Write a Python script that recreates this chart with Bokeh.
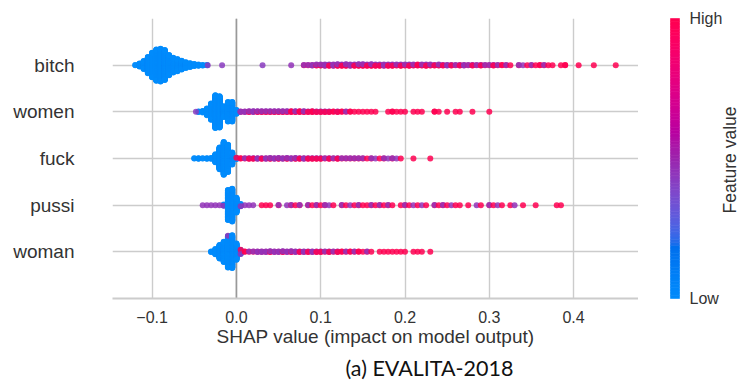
import math
import numpy as np
from bokeh.plotting import figure
from bokeh.layouts import row
from bokeh.models import Range1d, FixedTicker, LinearColorMapper, ColumnDataSource, Title, Label
from bokeh.embed import file_html
from bokeh.resources import INLINE

# ---------------- data ----------------
features = ["woman", "pussi", "fuck", "women", "bitch"]          # bottom -> top
x_ticks = [-0.1, 0.0, 0.1, 0.2, 0.3, 0.4]
x_tick_labels = ["\u22120.1", "0.0", "0.1", "0.2", "0.3", "0.4"]
bin_width = 0.005                # histogram bin width of the counts below
LOW_V, MID_V, HIGH_V = 0.0, 0.45, 1.0   # feature value of the three colour groups

# bitch
bitch_low_start = -0.120
bitch_low_counts = [2, 12, 30, 60, 90, 115, 120, 110, 75, 55, 45, 33, 22, 15, 8, 5, 3, 2]
bitch_pos_start = 0.080
bitch_pos_mid = [1, 1, 2, 2, 2, 3, 2, 3, 3, 2, 3, 3, 2, 3, 3, 2, 3, 2, 2, 3,
                 2, 2, 2, 2, 2, 2, 2, 1, 2, 2, 2, 1, 2, 1, 2, 1, 1, 1, 2, 1,
                 1, 1, 1, 1, 1, 1, 1, 0, 1, 0, 0, 1, 1, 0, 1, 0, 0, 1, 0, 0,
                 0, 0, 0, 0]
bitch_pos_high = [1, 1, 1, 2, 2, 2, 3, 2, 3, 3, 3, 2, 3, 3, 3, 3, 3, 3, 3, 2,
                  3, 3, 2, 3, 2, 3, 2, 3, 2, 3, 2, 2, 2, 2, 1, 2, 1, 2, 1, 1,
                  2, 1, 2, 1, 1, 2, 1, 2, 1, 1, 0, 1, 0, 1, 1, 1, 2, 1, 1, 1,
                  0, 1, 2, 0]
bitch_extra_x = [-0.034, -0.017, 0.031, 0.065, 0.406, 0.424, 0.450]
bitch_extra_v = [0.42, 0.42, 0.42, 0.45, 1.0, 1.0, 1.0]

# women
women_low_start = -0.045
women_low_counts = [3, 6, 25, 60, 120, 115, 40, 72, 72, 15]
women_pos_start = 0.005
women_pos_mid = [2, 2, 2, 3, 2, 2, 2, 2, 2, 2, 2, 2, 1, 2, 1, 2, 1, 1, 1, 1,
                 1, 1, 0, 1, 0, 1, 0, 0, 0, 0, 0, 0, 0, 0, 0, 0, 0, 0, 0, 0,
                 0, 0, 0, 0, 0, 0, 0, 0, 0, 0, 0, 0, 0, 0, 0, 0, 0, 0, 0, 0]
women_pos_high = [1, 1, 2, 1, 2, 2, 2, 2, 2, 2, 2, 2, 3, 2, 3, 2, 2, 3, 2, 2,
                  2, 2, 2, 2, 2, 1, 2, 1, 1, 1, 1, 1, 1, 0, 0, 1, 2, 1, 1, 1,
                  0, 1, 1, 1, 0, 0, 2, 1, 0, 1, 0, 1, 1, 0, 0, 1, 0, 0, 0, 1]
women_extra_x = [-0.048]
women_extra_v = [0.42]

# fuck
fuck_low_start = -0.050
fuck_low_counts = [2, 3, 2, 3, 4, 30, 80, 120, 100, 45, 5]
fuck_pos_start = 0.000
fuck_pos_mid = [0, 0, 1, 1, 1, 2, 1, 2, 2, 2, 2, 2, 2, 2, 2, 1, 2, 1, 1, 1,
                1, 1, 1, 1, 1, 1, 1, 1, 1, 1, 1, 0, 1, 1, 0, 1, 1, 1, 1, 0,
                0, 0, 0, 0, 0, 0, 0]
fuck_pos_high = [1, 2, 1, 2, 2, 1, 2, 1, 2, 1, 2, 1, 2, 1, 2, 2, 1, 2, 2, 2,
                 2, 1, 2, 1, 2, 1, 1, 1, 1, 1, 1, 1, 1, 0, 1, 1, 0, 1, 0, 1,
                 0, 0, 1, 0, 0, 0, 1]
fuck_extra_x = []
fuck_extra_v = []

# pussi
pussi_low_start = -0.015
pussi_low_counts = [4, 110, 120, 55, 8]
pussi_pos_start = -0.040
pussi_pos_mid = [1, 1, 1, 1, 1, 1, 0, 0, 0, 1, 1, 1, 1, 0, 0, 0, 0, 0, 1, 0,
                 1, 1, 0, 1, 0, 1, 0, 1, 0, 1, 1, 0, 0, 1, 0, 1, 0, 1, 0, 0,
                 1, 0, 1, 0, 1, 0, 0, 0, 1, 0, 1, 0, 1, 0, 0, 1, 0, 1, 0, 1,
                 0, 0, 0, 0, 0, 1, 0, 0, 1, 0, 1, 0, 0, 0, 1, 0, 0, 0, 0, 0,
                 0, 0, 0, 0, 0, 0, 0]
pussi_pos_high = [0, 0, 0, 0, 0, 0, 0, 0, 0, 0, 0, 0, 0, 0, 1, 1, 1, 0, 1, 0,
                  0, 1, 1, 1, 0, 1, 1, 1, 1, 1, 0, 1, 0, 1, 1, 0, 1, 1, 1, 1,
                  1, 1, 1, 1, 1, 1, 0, 1, 1, 1, 0, 1, 0, 1, 0, 1, 1, 1, 1, 0,
                  1, 1, 0, 1, 0, 0, 1, 0, 1, 1, 0, 1, 0, 1, 0, 0, 1, 0, 0, 1,
                  0, 0, 0, 0, 1, 1, 0]
pussi_extra_x = []
pussi_extra_v = []

# woman
woman_low_start = -0.030
woman_low_counts = [3, 20, 50, 75, 115, 120, 60, 15]
woman_pos_start = -0.010
woman_pos_mid = [1, 0, 0, 1, 0, 1, 1, 2, 2, 2, 2, 2, 2, 2, 2, 2, 2, 1, 2, 1,
                 2, 1, 1, 1, 1, 1, 1, 0, 1, 0, 1, 0, 0, 1, 0, 0, 0, 0, 0, 0,
                 0, 0, 0, 0, 0, 0, 0, 0, 0]
woman_pos_high = [0, 0, 0, 1, 2, 1, 1, 1, 1, 1, 2, 1, 1, 2, 1, 2, 1, 2, 1, 2,
                  1, 2, 2, 1, 2, 1, 2, 2, 1, 2, 1, 2, 1, 1, 1, 0, 1, 1, 1, 1,
                  1, 1, 1, 0, 1, 1, 1, 0, 1]
woman_extra_x = []
woman_extra_v = []

rows_data = {
    "woman": (woman_low_start, woman_low_counts, woman_pos_start, woman_pos_mid, woman_pos_high, woman_extra_x, woman_extra_v),
    "pussi": (pussi_low_start, pussi_low_counts, pussi_pos_start, pussi_pos_mid, pussi_pos_high, pussi_extra_x, pussi_extra_v),
    "fuck": (fuck_low_start, fuck_low_counts, fuck_pos_start, fuck_pos_mid, fuck_pos_high, fuck_extra_x, fuck_extra_v),
    "women": (women_low_start, women_low_counts, women_pos_start, women_pos_mid, women_pos_high, women_extra_x, women_extra_v),
    "bitch": (bitch_low_start, bitch_low_counts, bitch_pos_start, bitch_pos_mid, bitch_pos_high, bitch_extra_x, bitch_extra_v),
}

# ---------------- SHAP red_blue colour map (LCh interpolation) ----------------
def lch2hex(l, c, h):
    a, b = c * math.cos(h), c * math.sin(h)
    fy = (l + 16) / 116.0
    fx, fz = fy + a / 500.0, fy - b / 200.0
    def finv(t):
        return t ** 3 if t > 0.206893 else (t - 16 / 116.0) / 7.787
    X, Y, Z = 0.95047 * finv(fx), finv(fy), 1.08883 * finv(fz)
    r = 3.24048134 * X - 1.53715152 * Y - 0.49853633 * Z
    g = -0.96925495 * X + 1.87599 * Y + 0.04155593 * Z
    bl = 0.05564664 * X - 0.20404134 * Y + 1.05731107 * Z
    def gam(v):
        v = 1.055 * v ** (1 / 2.4) - 0.055 if v > 0.0031308 else 12.92 * v
        return int(round(min(1.0, max(0.0, v)) * 255))
    return "#%02x%02x%02x" % (gam(r), gam(g), gam(bl))

nsteps = 100
l_vals = list(np.linspace(54., 40., nsteps // 2)) + list(np.linspace(40., 54., nsteps // 2))
c_vals = np.linspace(70., 90., nsteps)
h_vals = np.linspace(4.6588, 0.35470565 + 2 * np.pi, nsteps)
palette = [lch2hex(l, c, h) for l, c, h in zip(l_vals, c_vals, h_vals)]
mapper = LinearColorMapper(palette=palette, low=0.0, high=1.0)

# ---------------- beeswarm layout (SHAP style layering) ----------------
def build_row(low_start, low_counts, pos_start, mid_counts, high_counts, extra_x, extra_v):
    groups, order = {}, []
    def add(x, v):
        k = round(x, 4)
        if k not in groups:
            groups[k] = []
            order.append(k)
        groups[k].append(v)
    for i, n in enumerate(low_counts):
        for _ in range(n):
            add(low_start + i * bin_width, LOW_V)
    for i, (m, h) in enumerate(zip(mid_counts, high_counts)):
        x = pos_start + i * bin_width
        for j in range(max(m, h)):
            if j < h:
                add(x, HIGH_V)
            if j < m:
                add(x, MID_V)
    for x, v in zip(extra_x, extra_v):
        add(x, v)
    xs, offs, vs = [], [], []
    for k in order:
        for layer, v in enumerate(groups[k]):
            xs.append(k)
            offs.append(math.ceil(layer / 2) * ((layer % 2) * 2 - 1))
            vs.append(v)
    offs = np.array(offs, dtype=float)
    offs *= 0.9 * (0.4 / np.max(offs + 1))
    return xs, offs, vs

all_x, all_y, all_v = [], [], []
for pos, name in enumerate(features):
    xs, offs, vs = build_row(*rows_data[name])
    all_x += xs
    all_y += list(pos + offs)
    all_v += vs
src = ColumnDataSource(dict(x=all_x, y=all_y, v=all_v))

# ---------------- main figure ----------------
FONT = "Liberation Sans"
rows = list(range(len(features)))
p = figure(width=638, height=385, x_range=Range1d(-0.147, 0.477), y_range=Range1d(-1, 5),
           output_backend="svg", toolbar_location=None,
           min_border_left=112, min_border_right=0, min_border_top=18, min_border_bottom=87)
p.frame_align = False
p.outline_line_color = None
p.background_fill_color = "white"
p.xgrid.ticker = FixedTicker(ticks=x_ticks)
p.xgrid.grid_line_color = "#cccccc"
p.xgrid.grid_line_width = 1.4
p.ygrid.ticker = FixedTicker(ticks=rows)
p.ygrid.grid_line_color = "#cccccc"
p.ygrid.grid_line_width = 1.4

p.segment(x0=[0.0], y0=-1, x1=[0.0], y1=5, line_color="#999999", line_width=1.6)
p.scatter(x="x", y="y", source=src, size=6, line_color=None,
          fill_color={"field": "v", "transform": mapper}, fill_alpha=0.85)

p.xaxis.ticker = FixedTicker(ticks=x_ticks)
p.xaxis.major_label_overrides = {t: s for t, s in zip(x_ticks, x_tick_labels)}
p.xaxis.axis_line_color = "#cccccc"
p.xaxis.axis_line_width = 1.8
p.xaxis.major_tick_line_color = None
p.xaxis.minor_tick_line_color = None
p.xaxis.major_tick_out = 0
p.xaxis.major_tick_in = 0
p.xaxis.major_label_standoff = 12
p.xaxis.major_label_text_font = FONT
p.xaxis.major_label_text_font_size = "16px"
p.xaxis.major_label_text_color = "#333333"
p.xaxis.axis_label = "SHAP value (impact on model output)"
p.xaxis.axis_label_text_font = FONT
p.xaxis.axis_label_text_font_size = "19px"
p.xaxis.axis_label_text_font_style = "normal"
p.xaxis.axis_label_text_color = "#333333"
p.xaxis.axis_label_standoff = 0

p.yaxis.ticker = FixedTicker(ticks=rows)
p.yaxis.major_label_overrides = {i: f for i, f in enumerate(features)}
p.yaxis.axis_line_color = None
p.yaxis.major_tick_line_color = None
p.yaxis.minor_tick_line_color = None
p.yaxis.major_tick_out = 0
p.yaxis.major_tick_in = 0
p.yaxis.major_label_standoff = 38
p.yaxis.major_label_text_font = FONT
p.yaxis.major_label_text_font_size = "19px"
p.yaxis.major_label_text_color = "#333333"

p.add_layout(Title(text="(a) EVALITA-2018", align="left", offset=233, standoff=7,
                   text_font="Lato", text_font_size="21.5px", text_font_style="normal",
                   text_color="#111111"), "below")

# ---------------- colour bar figure ----------------
# its frame fills the whole canvas; y uses the same scale as the main plot
ROW_PX = 280 / 6.0
cb = figure(width=106, height=385, x_range=Range1d(0, 106),
            y_range=Range1d(-1 - 87 / ROW_PX, 5 + 18 / ROW_PX),
            output_backend="svg", toolbar_location=None,
            x_axis_location=None, y_axis_location=None,
            min_border=0, min_border_left=0, min_border_right=0,
            min_border_top=0, min_border_bottom=0)
cb.frame_align = False
cb.outline_line_color = None
cb.xgrid.visible = False
cb.ygrid.visible = False
levels = np.linspace(0, 1, 101)
cb_src = ColumnDataSource(dict(bottom=list(-1 + 6 * levels[:-1]),
                               top=list(-1 + 6 * levels[1:]),
                               v=list((levels[:-1] + levels[1:]) / 2)))
cb.quad(left=32, right=41, bottom="bottom", top="top", source=cb_src,
        fill_color={"field": "v", "transform": mapper},
        line_color={"field": "v", "transform": mapper}, line_width=0.6)
for txt, yy in (("High", 5.0), ("Low", -1.0)):
    cb.add_layout(Label(x=51, y=yy, text=txt, text_font=FONT, text_font_size="16px",
                        text_color="#333333", text_baseline="middle", text_align="left"))
cb.add_layout(Label(x=91.5, y=1.968, text="Feature value", angle=math.pi / 2,
                    text_font=FONT, text_font_size="17.5px", text_color="#333333",
                    text_baseline="middle", text_align="center"))

layout = row(p, cb)
open("out.html", "w").write(file_html(layout, INLINE))
